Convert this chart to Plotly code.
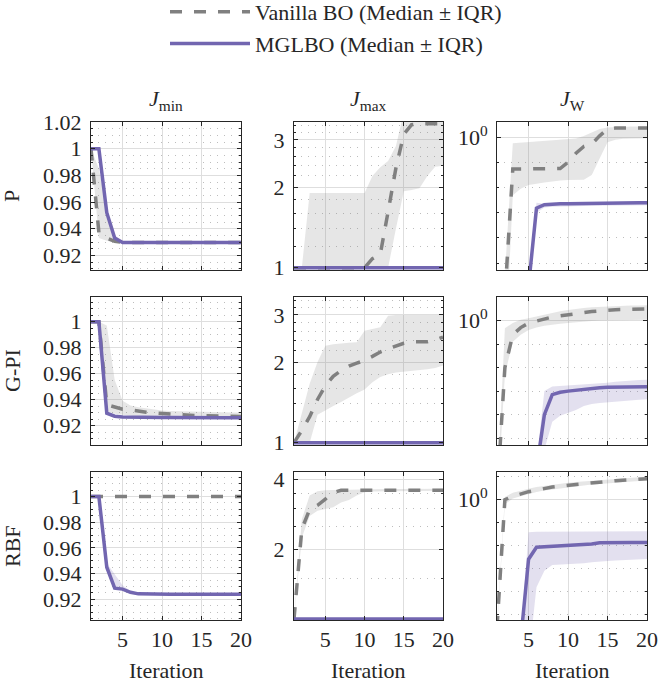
import math
import plotly.graph_objects as go

# ---------------- data ----------------
iterations = list(range(1, 21))
row_names = ["P", "G-PI", "RBF"]
col_titles = ["<i>J</i><sub>min</sub>", "<i>J</i><sub>max</sub>", "<i>J</i><sub>W</sub>"]
x_tick_vals = [5, 10, 15, 20]
jmin_tick_vals = [0.92, 0.94, 0.96, 0.98, 1.0, 1.02]
jmin_tick_text = ["0.92", "0.94", "0.96", "0.98", "1", "1.02"]
jmax_tick_vals_a = [1, 2, 3]
jmax_tick_vals_b = [2, 4]
jw_tick_vals = [1]
jw_tick_text = ["10<sup>0</sup>"]
series_names = ["Vanilla BO (Median \u00b1 IQR)", "MGLBO (Median \u00b1 IQR)"]

# ---- P, J_min ----
P_Jmin_van_med = [1.0, 0.937, 0.933, 0.9305, 0.9297, 0.9296, 0.9296, 0.9296, 0.9296, 0.9296, 0.9296, 0.9296, 0.9296, 0.9296, 0.9296, 0.9296, 0.9296, 0.9296, 0.9296, 0.9296]
P_Jmin_van_lo = [1.0, 0.933, 0.931, 0.9296, 0.9295, 0.9295, 0.9295, 0.9295, 0.9295, 0.9295, 0.9295, 0.9295, 0.9295, 0.9295, 0.9295, 0.9295, 0.9295, 0.9295, 0.9295, 0.9295]
P_Jmin_van_hi = [1.0, 0.985, 0.955, 0.935, 0.931, 0.9298, 0.9297, 0.9297, 0.9297, 0.9297, 0.9297, 0.9297, 0.9297, 0.9297, 0.9297, 0.9297, 0.9297, 0.9297, 0.9297, 0.9297]
P_Jmin_mg_med = [1.0, 1.0, 0.952, 0.933, 0.9296, 0.9296, 0.9296, 0.9296, 0.9296, 0.9296, 0.9296, 0.9296, 0.9296, 0.9296, 0.9296, 0.9296, 0.9296, 0.9296, 0.9296, 0.9296]
P_Jmin_mg_lo = [1.0, 1.0, 0.951, 0.9325, 0.9295, 0.9295, 0.9295, 0.9295, 0.9295, 0.9295, 0.9295, 0.9295, 0.9295, 0.9295, 0.9295, 0.9295, 0.9295, 0.9295, 0.9295, 0.9295]
P_Jmin_mg_hi = [1.0, 1.0, 0.953, 0.934, 0.9297, 0.9297, 0.9297, 0.9297, 0.9297, 0.9297, 0.9297, 0.9297, 0.9297, 0.9297, 0.9297, 0.9297, 0.9297, 0.9297, 0.9297, 0.9297]

# ---- G-PI, J_min ----
GPI_Jmin_van_med = [1.0, 1.0, 0.936, 0.934, 0.9325, 0.932, 0.931, 0.9303, 0.9297, 0.9292, 0.9288, 0.9284, 0.9281, 0.9278, 0.9276, 0.9274, 0.9272, 0.9271, 0.927, 0.927]
GPI_Jmin_van_lo = [1.0, 1.0, 0.931, 0.929, 0.928, 0.9275, 0.927, 0.9268, 0.9267, 0.9266, 0.9265, 0.9265, 0.9265, 0.9265, 0.9265, 0.9265, 0.9265, 0.9265, 0.9265, 0.9265]
GPI_Jmin_van_hi = [1.0, 1.0, 0.997, 0.955, 0.939, 0.9355, 0.934, 0.933, 0.932, 0.9315, 0.9312, 0.931, 0.9308, 0.9306, 0.9305, 0.9303, 0.9302, 0.9301, 0.93, 0.93]
GPI_Jmin_mg_med = [1.0, 1.0, 0.9295, 0.9272, 0.9265, 0.9263, 0.9262, 0.9262, 0.9261, 0.9261, 0.9261, 0.926, 0.926, 0.926, 0.926, 0.926, 0.926, 0.926, 0.926, 0.926]
GPI_Jmin_mg_lo = [1.0, 1.0, 0.929, 0.927, 0.9263, 0.9261, 0.926, 0.926, 0.9259, 0.9259, 0.9259, 0.9258, 0.9258, 0.9258, 0.9258, 0.9258, 0.9258, 0.9258, 0.9258, 0.9258]
GPI_Jmin_mg_hi = [1.0, 1.0, 0.93, 0.9276, 0.9268, 0.9265, 0.9264, 0.9264, 0.9263, 0.9263, 0.9263, 0.9262, 0.9262, 0.9262, 0.9262, 0.9262, 0.9262, 0.9262, 0.9262, 0.9262]

# ---- RBF, J_min ----
RBF_Jmin_van_med = [1.0, 1.0, 1.0, 1.0, 1.0, 1.0, 1.0, 1.0, 1.0, 1.0, 1.0, 1.0, 1.0, 1.0, 1.0, 1.0, 1.0, 1.0, 1.0, 1.0]
RBF_Jmin_van_lo = [1.0, 1.0, 1.0, 1.0, 1.0, 1.0, 1.0, 1.0, 1.0, 1.0, 1.0, 1.0, 1.0, 1.0, 1.0, 1.0, 1.0, 1.0, 1.0, 1.0]
RBF_Jmin_van_hi = [1.0, 1.0, 1.0, 1.0, 1.0, 1.0, 1.0, 1.0, 1.0, 1.0, 1.0, 1.0, 1.0, 1.0, 1.0, 1.0, 1.0, 1.0, 1.0, 1.0]
RBF_Jmin_mg_med = [1.0, 1.0, 0.945, 0.9287, 0.928, 0.9255, 0.9243, 0.9241, 0.924, 0.924, 0.924, 0.924, 0.924, 0.924, 0.924, 0.924, 0.924, 0.924, 0.924, 0.924]
RBF_Jmin_mg_lo = [1.0, 1.0, 0.944, 0.928, 0.9275, 0.925, 0.924, 0.9239, 0.9239, 0.9239, 0.9239, 0.9239, 0.9239, 0.9239, 0.9239, 0.9239, 0.9239, 0.9239, 0.9239, 0.9239]
RBF_Jmin_mg_hi = [1.0, 1.0, 0.948, 0.939, 0.931, 0.9265, 0.925, 0.9245, 0.9243, 0.9242, 0.9241, 0.9241, 0.9241, 0.9241, 0.9241, 0.9241, 0.9241, 0.9241, 0.9241, 0.9241]

# ---- P, J_max ----
P_Jmax_van_med = [1.0, 1.0, 1.0, 1.0, 1.0, 1.0, 1.0, 1.0, 1.0, 1.0, 1.08, 1.12, 1.62, 2.36, 3.15, 3.42, 3.45, 3.45, 3.45, 3.45]
P_Jmax_van_lo = [1.0, 1.0, 1.0, 1.0, 1.0, 1.0, 1.0, 1.0, 1.0, 1.0, 1.0, 1.0, 1.0, 1.4, 1.93, 1.95, 1.98, 2.2, 2.38, 2.4]
P_Jmax_van_hi = [1.0, 1.0, 1.9, 1.9, 1.9, 1.9, 1.9, 1.9, 1.9, 1.9, 2.2, 2.37, 2.5, 2.85, 3.8, 3.8, 3.8, 3.8, 3.8, 3.8]
P_Jmax_mg_med = [1.0, 1.0, 1.0, 1.0, 1.0, 1.0, 1.0, 1.0, 1.0, 1.0, 1.0, 1.0, 1.0, 1.0, 1.0, 1.0, 1.0, 1.0, 1.0, 1.0]
P_Jmax_mg_lo = [1.0, 1.0, 1.0, 1.0, 1.0, 1.0, 1.0, 1.0, 1.0, 1.0, 1.0, 1.0, 1.0, 1.0, 1.0, 1.0, 1.0, 1.0, 1.0, 1.0]
P_Jmax_mg_hi = [1.0, 1.0, 1.0, 1.0, 1.0, 1.0, 1.0, 1.0, 1.0, 1.0, 1.0, 1.0, 1.0, 1.0, 1.0, 1.0, 1.0, 1.0, 1.0, 1.0]

# ---- G-PI, J_max ----
GPI_Jmax_van_med = [1.0, 1.11, 1.25, 1.45, 1.63, 1.77, 1.86, 1.93, 1.98, 2.03, 2.1, 2.18, 2.24, 2.3, 2.35, 2.38, 2.38, 2.38, 2.42, 2.48]
GPI_Jmax_van_lo = [1.0, 1.0, 1.0, 1.27, 1.32, 1.37, 1.42, 1.47, 1.53, 1.58, 1.68, 1.76, 1.8, 1.83, 1.85, 1.86, 1.87, 1.88, 1.9, 1.94]
GPI_Jmax_van_hi = [1.0, 1.3, 1.66, 2.0, 2.3, 2.33, 2.35, 2.36, 2.37, 2.62, 2.66, 2.7, 2.98, 3.0, 3.0, 3.0, 3.0, 3.0, 3.0, 3.0]
GPI_Jmax_mg_med = [1.0, 1.0, 1.0, 1.0, 1.0, 1.0, 1.0, 1.0, 1.0, 1.0, 1.0, 1.0, 1.0, 1.0, 1.0, 1.0, 1.0, 1.0, 1.0, 1.0]
GPI_Jmax_mg_lo = [1.0, 1.0, 1.0, 1.0, 1.0, 1.0, 1.0, 1.0, 1.0, 1.0, 1.0, 1.0, 1.0, 1.0, 1.0, 1.0, 1.0, 1.0, 1.0, 1.0]
GPI_Jmax_mg_hi = [1.0, 1.0, 1.0, 1.0, 1.0, 1.0, 1.0, 1.0, 1.0, 1.0, 1.0, 1.0, 1.0, 1.0, 1.0, 1.0, 1.0, 1.0, 1.0, 1.0]

# ---- RBF, J_max ----
RBF_Jmax_van_med = [1.0, 2.45, 2.98, 3.1, 3.3, 3.52, 3.6, 3.6, 3.6, 3.6, 3.6, 3.6, 3.6, 3.6, 3.6, 3.6, 3.6, 3.6, 3.6, 3.6]
RBF_Jmax_van_lo = [1.0, 2.25, 2.79, 2.94, 2.99, 3.04, 3.19, 3.27, 3.42, 3.53, 3.56, 3.57, 3.58, 3.58, 3.58, 3.58, 3.58, 3.58, 3.58, 3.58]
RBF_Jmax_van_hi = [1.0, 2.7, 3.42, 3.57, 3.6, 3.62, 3.62, 3.62, 3.63, 3.63, 3.64, 3.64, 3.65, 3.65, 3.65, 3.66, 3.66, 3.66, 3.66, 3.66]
RBF_Jmax_mg_med = [1.0, 1.0, 1.0, 1.0, 1.0, 1.0, 1.0, 1.0, 1.0, 1.0, 1.0, 1.0, 1.0, 1.0, 1.0, 1.0, 1.0, 1.0, 1.0, 1.0]
RBF_Jmax_mg_lo = [1.0, 1.0, 1.0, 1.0, 1.0, 1.0, 1.0, 1.0, 1.0, 1.0, 1.0, 1.0, 1.0, 1.0, 1.0, 1.0, 1.0, 1.0, 1.0, 1.0]
RBF_Jmax_mg_hi = [1.0, 1.0, 1.0, 1.0, 1.0, 1.0, 1.0, 1.0, 1.0, 1.0, 1.0, 1.0, 1.0, 1.0, 1.0, 1.0, 1.0, 1.0, 1.0, 1.0]

# ---- P, J_W ----
P_JW_van_med = [1e-9, 5e-7, 0.054, 0.055, 0.055, 0.055, 0.056, 0.056, 0.057, 0.102, 0.229, 0.427, 0.537, 1.12, 2.09, 2.29, 2.3, 2.3, 2.3, 2.3]
P_JW_van_lo = [1e-10, 1e-9, 5.0e-3, 8.9e-3, 1.26e-2, 1.41e-2, 1.58e-2, 1.78e-2, 1.9e-2, 2.0e-2, 2.04e-2, 2.04e-2, 3.16e-2, 0.141, 0.631, 0.794, 0.871, 0.891, 0.912, 0.912]
P_JW_van_hi = [1e-9, 3.2e-6, 0.575, 0.603, 0.631, 0.661, 0.692, 0.724, 0.759, 0.794, 0.891, 1.12, 1.58, 2.09, 2.4, 2.51, 2.57, 2.63, 2.63, 2.63]
P_JW_mg_med = [1e-9, 1e-9, 1e-9, 1e-9, 1.26e-6, 1.51e-3, 2.09e-3, 2.24e-3, 2.26e-3, 2.29e-3, 2.29e-3, 2.31e-3, 2.34e-3, 2.36e-3, 2.38e-3, 2.4e-3, 2.42e-3, 2.45e-3, 2.48e-3, 2.5e-3]
P_JW_mg_lo = [1e-10, 1e-10, 1e-10, 1e-10, 5e-7, 1.0e-3, 1.6e-3, 1.75e-3, 1.8e-3, 1.8e-3, 1.82e-3, 1.85e-3, 1.88e-3, 1.9e-3, 1.9e-3, 1.92e-3, 1.95e-3, 1.98e-3, 2.0e-3, 2.0e-3]
P_JW_mg_hi = [1e-9, 1e-9, 1e-9, 1e-9, 2e-6, 2.5e-3, 2.3e-3, 2.35e-3, 2.4e-3, 2.4e-3, 2.45e-3, 2.45e-3, 2.5e-3, 2.5e-3, 2.55e-3, 2.55e-3, 2.6e-3, 2.6e-3, 2.65e-3, 2.65e-3]

# ---- G-PI, J_W ----
GPI_JW_van_med = [3.2e-8, 1.0e-2, 0.251, 0.501, 0.776, 0.955, 1.15, 1.41, 1.58, 1.78, 2.0, 2.19, 2.4, 2.57, 2.82, 2.88, 2.95, 3.02, 3.09, 3.09]
GPI_JW_van_lo = [1e-8, 5.0e-3, 0.126, 0.251, 0.398, 0.501, 0.603, 0.661, 0.724, 0.794, 0.851, 0.912, 0.955, 1.0, 1.02, 1.05, 1.05, 1.07, 1.07, 1.07]
GPI_JW_van_hi = [4e-8, 0.468, 0.794, 1.07, 1.26, 1.51, 1.78, 2.24, 2.51, 2.82, 3.16, 3.39, 3.63, 3.8, 3.98, 4.17, 4.27, 4.37, 4.37, 4.47]
GPI_JW_mg_med = [1e-9, 1e-9, 1e-9, 1e-9, 1e-9, 4.5e-7, 1.0e-4, 7.1e-4, 8.9e-4, 1.0e-3, 1.1e-3, 1.2e-3, 1.29e-3, 1.38e-3, 1.45e-3, 1.48e-3, 1.51e-3, 1.51e-3, 1.55e-3, 1.55e-3]
GPI_JW_mg_lo = [1e-10, 1e-10, 1e-10, 1e-10, 1e-10, 1e-10, 3.2e-6, 5.0e-5, 8.9e-5, 1.2e-4, 1.58e-4, 2.34e-4, 2.82e-4, 3.16e-4, 3.39e-4, 3.63e-4, 3.89e-4, 4.07e-4, 4.27e-4, 4.47e-4]
GPI_JW_mg_hi = [1e-9, 1e-9, 1e-9, 1e-9, 1e-9, 1e-6, 1e-3, 1.58e-3, 1.66e-3, 1.74e-3, 1.82e-3, 1.91e-3, 2.0e-3, 2.09e-3, 2.29e-3, 2.51e-3, 2.69e-3, 2.82e-3, 2.95e-3, 3.02e-3]

# ---- RBF, J_W ----
RBF_JW_van_med = [2.5e-6, 1.0, 1.41, 1.82, 2.24, 2.63, 3.09, 3.55, 3.89, 4.27, 4.68, 5.01, 5.5, 5.89, 6.31, 6.76, 7.24, 7.59, 7.94, 8.32]
RBF_JW_van_lo = [2.0e-6, 0.631, 1.12, 1.41, 1.78, 2.14, 2.51, 2.88, 3.16, 3.55, 3.8, 4.17, 4.57, 4.9, 5.25, 5.62, 6.03, 6.31, 6.61, 6.92]
RBF_JW_van_hi = [3.2e-6, 1.32, 2.0, 2.51, 3.02, 3.55, 3.98, 4.57, 5.01, 5.5, 5.89, 6.31, 6.76, 7.24, 7.76, 8.32, 8.71, 9.12, 9.55, 10.0]
RBF_JW_mg_med = [1e-9, 1e-9, 1e-9, 7.1e-7, 2.51e-3, 8.3e-3, 8.7e-3, 8.9e-3, 9.5e-3, 1.05e-2, 1.07e-2, 1.1e-2, 1.15e-2, 1.32e-2, 1.35e-2, 1.35e-2, 1.35e-2, 1.35e-2, 1.35e-2, 1.35e-2]
RBF_JW_mg_lo = [1e-10, 1e-10, 1e-10, 1e-10, 1e-7, 1.48e-4, 7.9e-4, 1.41e-3, 1.48e-3, 1.51e-3, 1.58e-3, 1.66e-3, 1.82e-3, 2.0e-3, 2.09e-3, 2.19e-3, 2.29e-3, 2.4e-3, 2.51e-3, 2.57e-3]
RBF_JW_mg_hi = [1e-9, 1e-9, 1e-9, 1e-6, 3.8e-2, 3.98e-2, 3.98e-2, 3.98e-2, 4.0e-2, 4.0e-2, 4.05e-2, 4.05e-2, 4.1e-2, 4.1e-2, 4.12e-2, 4.12e-2, 4.15e-2, 4.15e-2, 4.17e-2, 4.17e-2]

# ---------------- styling ----------------
W, H = 660, 687
FONT = "'Liberation Serif', 'DejaVu Serif', 'Times New Roman', serif"
TXT = "#262626"
GRAY = "#808080"
PURPLE = "#7266b0"
GRAY_FILL = "rgba(128,128,128,0.2)"
PURPLE_FILL = "rgba(114,102,176,0.2)"
LW = 3.5
DASH = "12px,12px"

col_px = [(91, 241), (294, 443), (497, 647)]
row_px = [(122, 270), (297, 445), (472, 620)]

panels = [
    [(P_Jmin_van_med, P_Jmin_van_lo, P_Jmin_van_hi, P_Jmin_mg_med, P_Jmin_mg_lo, P_Jmin_mg_hi),
     (P_Jmax_van_med, P_Jmax_van_lo, P_Jmax_van_hi, P_Jmax_mg_med, P_Jmax_mg_lo, P_Jmax_mg_hi),
     (P_JW_van_med, P_JW_van_lo, P_JW_van_hi, P_JW_mg_med, P_JW_mg_lo, P_JW_mg_hi)],
    [(GPI_Jmin_van_med, GPI_Jmin_van_lo, GPI_Jmin_van_hi, GPI_Jmin_mg_med, GPI_Jmin_mg_lo, GPI_Jmin_mg_hi),
     (GPI_Jmax_van_med, GPI_Jmax_van_lo, GPI_Jmax_van_hi, GPI_Jmax_mg_med, GPI_Jmax_mg_lo, GPI_Jmax_mg_hi),
     (GPI_JW_van_med, GPI_JW_van_lo, GPI_JW_van_hi, GPI_JW_mg_med, GPI_JW_mg_lo, GPI_JW_mg_hi)],
    [(RBF_Jmin_van_med, RBF_Jmin_van_lo, RBF_Jmin_van_hi, RBF_Jmin_mg_med, RBF_Jmin_mg_lo, RBF_Jmin_mg_hi),
     (RBF_Jmax_van_med, RBF_Jmax_van_lo, RBF_Jmax_van_hi, RBF_Jmax_mg_med, RBF_Jmax_mg_lo, RBF_Jmax_mg_hi),
     (RBF_JW_van_med, RBF_JW_van_lo, RBF_JW_van_hi, RBF_JW_mg_med, RBF_JW_mg_lo, RBF_JW_mg_hi)],
]

lg = math.log10
jmin_ranges = [[0.909, 1.02], [0.905, 1.019], [0.904, 1.019]]
jmax_ranges = [[lg(0.98), lg(3.5)], [lg(0.98), lg(3.5)], [lg(0.99), lg(4.32)]]
jw_ranges = [[-5.27, 0.6], [-5.29, 1.0], [-5.26, 1.21]]
jmax_minor_a = [1.2, 1.4, 1.6, 1.8, 2.2, 2.4, 2.6, 2.8, 3.2, 3.4]
jmax_minor_b = [1.5, 2.5, 3, 3.5]
jw_minor = [1e-5, 1e-4, 1e-3, 1e-2, 1e-1, 10]

fig = go.Figure()

common_axis = dict(
    showline=True, linecolor=TXT, linewidth=1, mirror="ticks",
    ticks="inside", ticklen=4, tickwidth=1, tickcolor=TXT,
    showgrid=True, gridcolor="#dedede", gridwidth=1, automargin=False,
    zeroline=False, tickfont=dict(family=FONT, size=22, color=TXT),
)
minor_grid = dict(ticks="inside", ticklen=2, tickcolor=TXT, showgrid=True,
                  gridcolor="#bdbdbd", griddash="1px,6px", gridwidth=1)

layout_axes = {}
for r in range(3):
    for c in range(3):
        k = r * 3 + c + 1
        xa = "x" if k == 1 else f"x{k}"
        ya = "y" if k == 1 else f"y{k}"
        van_med, van_lo, van_hi, mg_med, mg_lo, mg_hi = panels[r][c]
        poly_x = iterations + iterations[::-1]
        fig.add_trace(go.Scatter(x=poly_x, y=van_hi + van_lo[::-1], fill="toself",
                                 fillcolor=GRAY_FILL, line=dict(width=0), mode="lines",
                                 hoverinfo="skip", showlegend=False, xaxis=xa, yaxis=ya))
        fig.add_trace(go.Scatter(x=poly_x, y=mg_hi + mg_lo[::-1], fill="toself",
                                 fillcolor=PURPLE_FILL, line=dict(width=0), mode="lines",
                                 hoverinfo="skip", showlegend=False, xaxis=xa, yaxis=ya))
        fig.add_trace(go.Scatter(x=iterations, y=van_med, mode="lines",
                                 line=dict(color=GRAY, width=LW, dash=DASH),
                                 name=series_names[0], legendgroup="van",
                                 showlegend=(k == 1), xaxis=xa, yaxis=ya))
        fig.add_trace(go.Scatter(x=iterations, y=mg_med, mode="lines",
                                 line=dict(color=PURPLE, width=LW),
                                 name=series_names[1], legendgroup="mg",
                                 showlegend=(k == 1), xaxis=xa, yaxis=ya))

        x0, x1 = col_px[c]
        y0, y1 = row_px[r]
        xdict = dict(common_axis, domain=[x0 / W, x1 / W], anchor=ya, range=[1, 20],
                     tickmode="array", tickvals=x_tick_vals, showticklabels=(r == 2),
                     ticklabelstandoff=0)
        ydict = dict(common_axis, domain=[1 - y1 / H, 1 - y0 / H], anchor=xa,
                     ticklabelstandoff=4)
        if c == 0:
            ydict.update(range=jmin_ranges[r], tickmode="array", tickvals=jmin_tick_vals,
                         ticktext=jmin_tick_text,
                         minor=dict(minor_grid, dtick=0.005, tick0=0.9))
        elif c == 1:
            if r < 2:
                tv, mv = jmax_tick_vals_a, jmax_minor_a
            else:
                tv, mv = jmax_tick_vals_b, jmax_minor_b
            ydict.update(type="log", range=jmax_ranges[r], tickmode="array", tickvals=tv,
                         ticktext=[str(v) for v in tv],
                         minor=dict(minor_grid, tickmode="array", tickvals=mv))
        else:
            ydict.update(type="log", range=jw_ranges[r], tickmode="array",
                         tickvals=jw_tick_vals, ticktext=jw_tick_text,
                         minor=dict(minor_grid, tickmode="array", tickvals=jw_minor))
        layout_axes["xaxis" if k == 1 else f"xaxis{k}"] = xdict
        layout_axes["yaxis" if k == 1 else f"yaxis{k}"] = ydict

annotations = []
for c in range(3):
    x0, x1 = col_px[c]
    annotations.append(dict(text=col_titles[c], x=(x0 + x1) / 2 / W, y=1 - 100 / H,
                            xref="paper", yref="paper", showarrow=False,
                            xanchor="center", yanchor="middle",
                            font=dict(family=FONT, size=22, color=TXT)))
    annotations.append(dict(text="Iteration", x=(x0 + x1) / 2 / W, y=1 - 670 / H,
                            xref="paper", yref="paper", showarrow=False,
                            xanchor="center", yanchor="middle",
                            font=dict(family=FONT, size=22, color=TXT)))
for r in range(3):
    y0, y1 = row_px[r]
    annotations.append(dict(text=row_names[r], x=12 / W, y=1 - (y0 + y1) / 2 / H,
                            xref="paper", yref="paper", showarrow=False, textangle=-90,
                            xanchor="center", yanchor="middle",
                            font=dict(family=FONT, size=22, color=TXT)))

fig.update_layout(
    width=W, height=H, margin=dict(l=0, r=0, t=0, b=0, autoexpand=False),
    paper_bgcolor="white", plot_bgcolor="white",
    font=dict(family=FONT, size=22, color=TXT),
    showlegend=True,
    legend=dict(x=165 / W, y=1 + 9 / H, xanchor="left", yanchor="top", itemwidth=80,
                bgcolor="rgba(0,0,0,0)", font=dict(family=FONT, size=22, color=TXT),
                tracegroupgap=0),
    annotations=annotations,
    **layout_axes,
)

fig.write_html("out.html", config={"displayModeBar": False},
               post_script="document.body.style.margin='0px';")
